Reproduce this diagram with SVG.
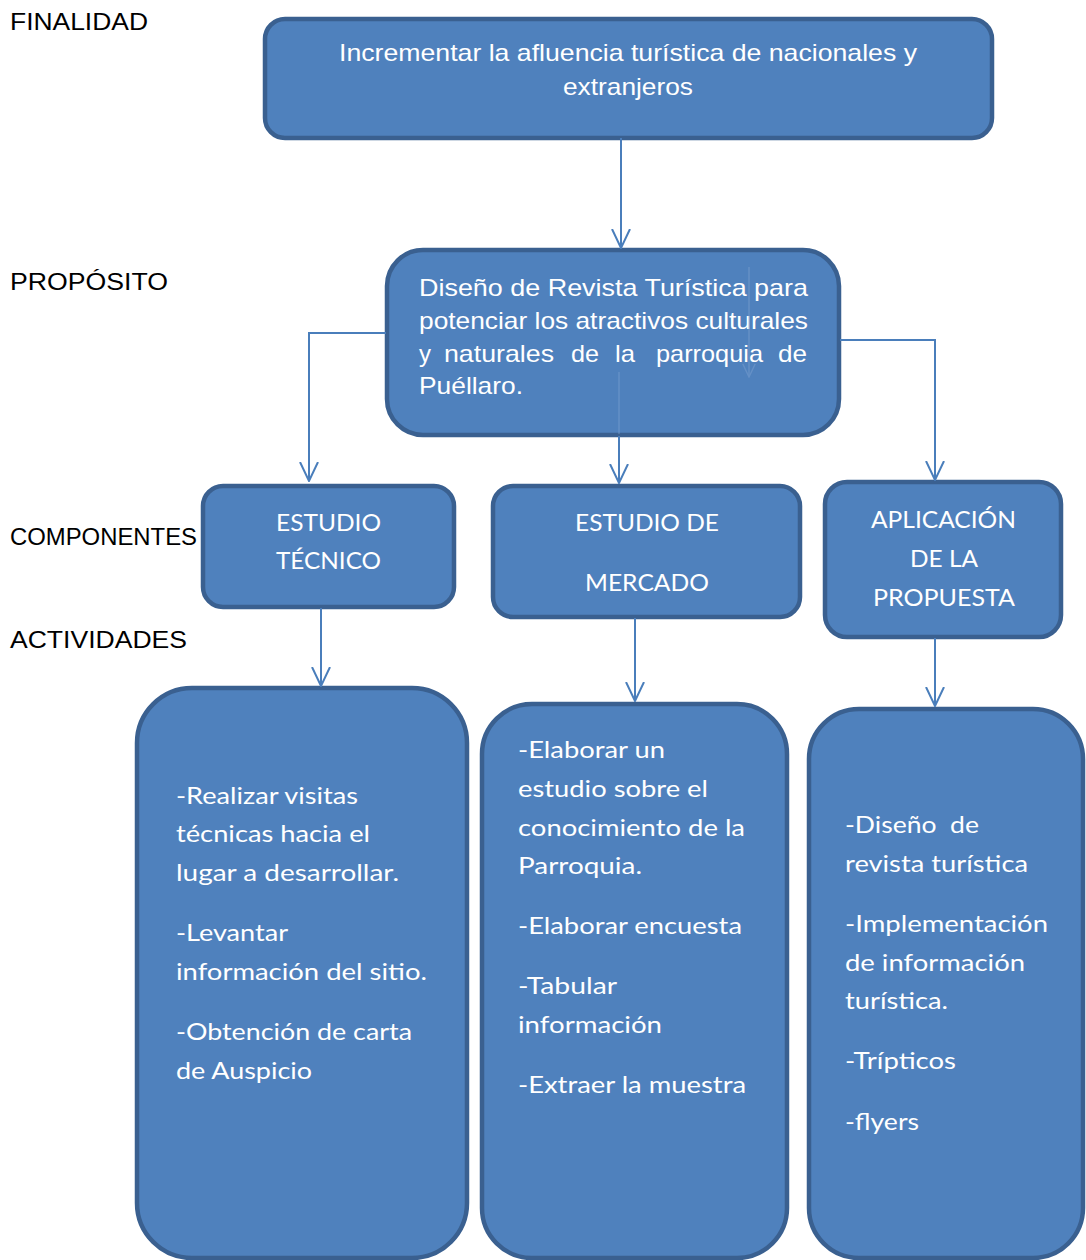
<svg xmlns="http://www.w3.org/2000/svg" width="1086" height="1260" viewBox="0 0 1086 1260">
<style>
.box{fill:#4F81BD;stroke:#3A6090;stroke-width:4.5}
.ar{font-family:"Liberation Sans",Arial,sans-serif;font-size:24px;fill:#fff}
.lbl{font-family:"Liberation Sans",Arial,sans-serif;font-size:23px;fill:#000}
.cb{font-family:Lato,"Open Sans",sans-serif;font-size:24px;fill:#fff}
.con{fill:none;stroke:#4A7EBB;stroke-width:2}
.faint{fill:none;stroke:#7FA3D2;stroke-width:1.5;opacity:0.45}
</style>
<defs>
<marker id="ah" markerUnits="userSpaceOnUse" viewBox="0 0 20 20" refX="19" refY="10" markerWidth="20" markerHeight="20" orient="auto">
<path d="M0,1 L19,10 L0,19" fill="none" stroke="#4A7EBB" stroke-width="2"/>
</marker>
<marker id="ahf" markerUnits="userSpaceOnUse" viewBox="0 0 20 20" refX="19" refY="10" markerWidth="14" markerHeight="14" orient="auto">
<path d="M0,1 L19,10 L0,19" fill="none" stroke="#7FA3D2" stroke-width="2"/>
</marker>
</defs>
<rect width="1086" height="1260" fill="#fff"/>

<g id="labels">
<text class="lbl" x="10" y="30" textLength="138" lengthAdjust="spacingAndGlyphs">FINALIDAD</text>
<text class="lbl" x="10" y="290" textLength="158" lengthAdjust="spacingAndGlyphs">PROPÓSITO</text>
<text class="lbl" x="10" y="545" textLength="187" lengthAdjust="spacingAndGlyphs">COMPONENTES</text>
<text class="lbl" x="10" y="648" textLength="177" lengthAdjust="spacingAndGlyphs">ACTIVIDADES</text>
</g>

<g id="finalidad">
<rect class="box" x="265" y="19" width="727" height="119" rx="20"/>
<text class="ar" x="339" y="61" textLength="578" lengthAdjust="spacingAndGlyphs">Incrementar la afluencia turística de nacionales y</text>
<text class="ar" x="563" y="95" textLength="130" lengthAdjust="spacingAndGlyphs">extranjeros</text>
</g>

<g id="proposito">
<rect class="box" x="387" y="250" width="452" height="185" rx="36"/>
<text class="ar" x="419" y="296" textLength="389" lengthAdjust="spacingAndGlyphs">Diseño de Revista Turística para</text>
<text class="ar" x="419" y="329" textLength="389" lengthAdjust="spacingAndGlyphs">potenciar los atractivos culturales</text>
<text class="ar" y="362"><tspan x="419" textLength="12" lengthAdjust="spacingAndGlyphs">y</tspan><tspan x="444" textLength="110" lengthAdjust="spacingAndGlyphs">naturales</tspan><tspan x="571" textLength="28" lengthAdjust="spacingAndGlyphs">de</tspan><tspan x="615" textLength="20" lengthAdjust="spacingAndGlyphs">la</tspan><tspan x="656" textLength="107" lengthAdjust="spacingAndGlyphs">parroquia</tspan><tspan x="778" textLength="29" lengthAdjust="spacingAndGlyphs">de</tspan></text>
<text class="ar" x="419" y="394" textLength="104" lengthAdjust="spacingAndGlyphs">Puéllaro.</text>
</g>

<g id="comp-tecnico">
<rect class="box" x="203" y="486" width="251" height="121" rx="20"/>
<text class="cb" x="276" y="531" textLength="105" lengthAdjust="spacingAndGlyphs">ESTUDIO</text>
<text class="cb" x="276" y="569" textLength="105" lengthAdjust="spacingAndGlyphs">TÉCNICO</text>
</g>

<g id="comp-mercado">
<rect class="box" x="493" y="486" width="307" height="131" rx="20"/>
<text class="cb" x="575" y="531" textLength="144" lengthAdjust="spacingAndGlyphs">ESTUDIO DE</text>
<text class="cb" x="585" y="591" textLength="124" lengthAdjust="spacingAndGlyphs">MERCADO</text>
</g>

<g id="comp-aplicacion">
<rect class="box" x="825" y="482" width="236" height="155" rx="22"/>
<text class="cb" x="871" y="528" textLength="145" lengthAdjust="spacingAndGlyphs">APLICACIÓN</text>
<text class="cb" x="910" y="567" textLength="68" lengthAdjust="spacingAndGlyphs">DE LA</text>
<text class="cb" x="873" y="606" textLength="142" lengthAdjust="spacingAndGlyphs">PROPUESTA</text>
</g>

<g id="act-tecnico">
<rect class="box" x="137" y="688" width="330" height="570" rx="55"/>
<text class="cb" x="176" y="804" textLength="182" lengthAdjust="spacingAndGlyphs">-Realizar visitas</text>
<text class="cb" x="176" y="842" textLength="194" lengthAdjust="spacingAndGlyphs">técnicas hacia el</text>
<text class="cb" x="176" y="881" textLength="223" lengthAdjust="spacingAndGlyphs">lugar a desarrollar.</text>
<text class="cb" x="176" y="941" textLength="112" lengthAdjust="spacingAndGlyphs">-Levantar</text>
<text class="cb" x="176" y="980" textLength="251" lengthAdjust="spacingAndGlyphs">información del sitio.</text>
<text class="cb" x="176" y="1040" textLength="236" lengthAdjust="spacingAndGlyphs">-Obtención de carta</text>
<text class="cb" x="176" y="1079" textLength="136" lengthAdjust="spacingAndGlyphs">de Auspicio</text>
</g>

<g id="act-mercado">
<rect class="box" x="482" y="704" width="305" height="554" rx="50"/>
<text class="cb" x="518" y="758" textLength="147" lengthAdjust="spacingAndGlyphs">-Elaborar un</text>
<text class="cb" x="518" y="797" textLength="190" lengthAdjust="spacingAndGlyphs">estudio sobre el</text>
<text class="cb" x="518" y="836" textLength="227" lengthAdjust="spacingAndGlyphs">conocimiento de la</text>
<text class="cb" x="518" y="874" textLength="124" lengthAdjust="spacingAndGlyphs">Parroquia.</text>
<text class="cb" x="518" y="934" textLength="224" lengthAdjust="spacingAndGlyphs">-Elaborar encuesta</text>
<text class="cb" x="518" y="994" textLength="99" lengthAdjust="spacingAndGlyphs">-Tabular</text>
<text class="cb" x="518" y="1033" textLength="144" lengthAdjust="spacingAndGlyphs">información</text>
<text class="cb" x="518" y="1093" textLength="228" lengthAdjust="spacingAndGlyphs">-Extraer la muestra</text>
</g>

<g id="act-aplicacion">
<rect class="box" x="809" y="709" width="274" height="549" rx="50"/>
<text class="cb" x="845" y="833" textLength="134" lengthAdjust="spacingAndGlyphs">-Diseño&#160; de</text>
<text class="cb" x="845" y="872" textLength="183" lengthAdjust="spacingAndGlyphs">revista turística</text>
<text class="cb" x="845" y="932" textLength="203" lengthAdjust="spacingAndGlyphs">-Implementación</text>
<text class="cb" x="845" y="971" textLength="180" lengthAdjust="spacingAndGlyphs">de información</text>
<text class="cb" x="845" y="1009" textLength="103" lengthAdjust="spacingAndGlyphs">turística.</text>
<text class="cb" x="845" y="1069" textLength="111" lengthAdjust="spacingAndGlyphs">-Trípticos</text>
<text class="cb" x="845" y="1130" textLength="74" lengthAdjust="spacingAndGlyphs">-flyers</text>
</g>

<g id="connectors">
<path class="con" d="M621,138 V248" marker-end="url(#ah)"/>
<path class="con" d="M386,333 H309 V481" marker-end="url(#ah)"/>
<path class="con" d="M840,340 H935 V480" marker-end="url(#ah)"/>
<path class="con" d="M619,436 V483" marker-end="url(#ah)"/>
<path class="faint" d="M619,372 V434"/>
<path class="faint" d="M749,267 V377" marker-end="url(#ahf)"/>
<path class="con" d="M321,608 V686" marker-end="url(#ah)"/>
<path class="con" d="M635,618 V701" marker-end="url(#ah)"/>
<path class="con" d="M935,638 V706" marker-end="url(#ah)"/>
</g>
</svg>
